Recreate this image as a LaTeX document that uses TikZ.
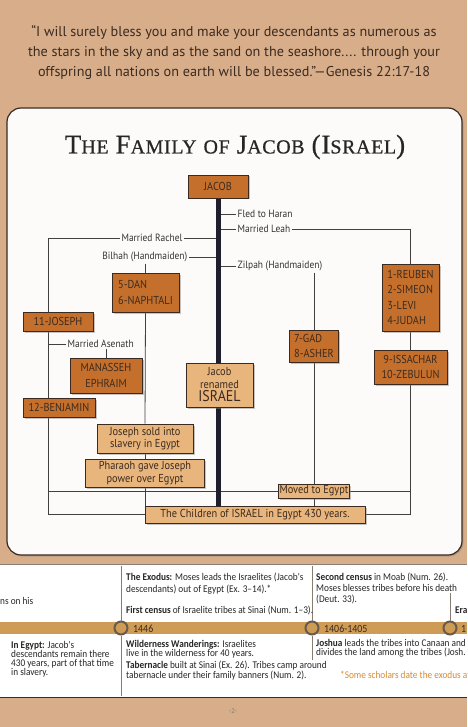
\documentclass[tikz,border=0pt]{standalone}
\usepackage{fontspec}
\newfontfamily\handfont[FakeStretch=0.9]{PT Sans}
\newfontfamily\quotefont{PT Sans}
\newfontfamily\condfont[FakeStretch=0.9]{Carlito}
\newfontfamily\titlefont[FakeBold=0.6, LetterSpace=3]{Liberation Serif}
\usetikzlibrary{positioning,shadows}

\definecolor{pagetan}{HTML}{D8AE8A}
\definecolor{paperwhite}{HTML}{FCFBF9}
\definecolor{kidorange}{HTML}{C4702C}
\definecolor{eventtan}{HTML}{E8B57C}
\definecolor{bandgold}{HTML}{CF9C55}
\definecolor{inkbrown}{HTML}{3A2A20}
\definecolor{spinenavy}{HTML}{1E1E2C}
\definecolor{noteorange}{HTML}{D88A34}
\definecolor{ringgray}{HTML}{6A5A4C}

% hand-made small capitals for the heading
\newcommand\titlecap[1]{{\fontsize{27}{27}\selectfont #1}}
\newcommand\titlesc[1]{{\fontsize{20}{27}\selectfont #1}}

\pgfdeclarelayer{paper}
\pgfdeclarelayer{wires}
\pgfsetlayers{paper,wires,main}

\begin{document}
\begin{tikzpicture}[x=1pt, y=-1pt,
  kid/.style={draw=inkbrown, fill=kidorange, line width=0.6pt, inner sep=0pt,
    font=\handfont\fontsize{11.5}{15.5}\selectfont, text=inkbrown,
    drop shadow={shadow xshift=1.5pt, shadow yshift=-1.5pt, opacity=0.45}},
  event/.style={kid, fill=eventtan, font=\handfont\fontsize{11.5}{12.5}\selectfont},
  lbl/.style={font=\handfont\fontsize{10.5}{12}\selectfont, text=black!80, inner sep=1.5pt},
  link/.style={draw=black!75, line width=0.8pt},
  sep/.style={draw=ringgray!80, line width=0.8pt},
  note/.style={font=\condfont\fontsize{10.3}{9}\selectfont, text=black!85, anchor=base west,
    align=left, inner sep=0pt},
  year/.style={note, font=\condfont\fontsize{11}{11}\selectfont, text=inkbrown},
  ring/.style={circle, draw=ringgray, fill=bandgold, line width=2pt, minimum size=13pt, inner sep=0pt},
]
\useasboundingbox (0,0) rectangle (467,727);
\clip (0,0) rectangle (467,727);

% page background
\begin{pgfonlayer}{paper}
\fill[pagetan] (0,0) rectangle (467,727);
\fill[white] (0,564) rectangle (467,697);
\draw[inkbrown!60, line width=0.8pt] (0,564) -- (467,564);
\draw[inkbrown, line width=1pt] (0,697) -- (467,697);
\fill[bandgold] (0,622) rectangle (467,634);
\draw[fill=paperwhite, draw=inkbrown, line width=1.2pt, rounded corners=14pt,
  drop shadow={shadow xshift=1.5pt, shadow yshift=-1.5pt, opacity=0.4}] (7,108) rectangle (462,555);
\end{pgfonlayer}

% quote and title
\node[font=\quotefont\fontsize{14.2}{20}\selectfont, text=inkbrown, align=center] (quote) at (234,52)
  {“I will surely bless you and make your descendants as numerous as\\
   the stars in the sky and as the sand on the seashore.... through your\\
   offspring all nations on earth will be blessed.”—Genesis 22:17-18};
\node[font=\titlefont\fontsize{25}{27}\selectfont, text=black!85] (title) at (235,147)
  {\titlecap{T}\titlesc{HE} \titlecap{F}\titlesc{AMILY} \titlesc{OF} \titlecap{J}\titlesc{ACOB}
   \titlecap{(I}\titlesc{SRAEL}\titlecap{)}};

% boxes
\node[kid, minimum width=60pt, minimum height=23pt] (jacob) at (218,186.5) {JACOB};
\node[kid, minimum width=67pt, minimum height=39pt, align=left] (dan) at (145.5,292.5) {5-DAN\\6-NAPHTALI};
\node[kid, minimum width=70pt, minimum height=19pt] (joseph) at (58,321.5) {11-JOSEPH};
\node[kid, minimum width=72pt, minimum height=35pt, align=center] (manasseh) at (106,375.5) {MANASSEH\\EPHRAIM};
\node[kid, minimum width=72pt, minimum height=19pt] (benjamin) at (59,407.5) {12-BENJAMIN};
\node[event, minimum width=96pt, minimum height=29pt, align=center] (sold) at (145,438.5) {Joseph sold into\\slavery in Egypt};
\node[event, minimum width=119pt, minimum height=28pt, align=center] (pharaoh) at (145,473) {Pharaoh gave Joseph\\power over Egypt};
\node[event, minimum width=67pt, minimum height=44pt, align=center] (israel) at (219.5,385)
  {Jacob\\renamed\\[1pt]{\fontsize{15.5}{15}\selectfont ISRAEL}};
\node[kid, minimum width=57pt, minimum height=67pt, align=left] (reuben) at (410.5,297.5)
  {1-REUBEN\\2-SIMEON\\3-LEVI\\4-JUDAH};
\node[kid, minimum width=49pt, minimum height=32pt, align=left] (gad) at (314,346) {7-GAD\\8-ASHER};
\node[kid, minimum width=73pt, minimum height=34pt, align=center] (issachar) at (410.5,367) {9-ISSACHAR\\10-ZEBULUN};
\node[event, minimum width=71pt, minimum height=14pt] (moved) at (314,491) {Moved to Egypt};
\node[event, minimum width=220pt, minimum height=17pt] (children) at (255,514.5)
  {The Children of ISRAEL in Egypt 430 years.};

% labels
\node[lbl, anchor=west] (fled) at (236,214) {Fled to Haran};
\node[lbl, anchor=west] (leah) at (236,229) {Married Leah};
\node[lbl, anchor=east] (rachel) at (184,238) {Married Rachel};
\node[lbl, anchor=east] (bilhah) at (189,257) {Bilhah (Handmaiden)};
\node[lbl, anchor=west] (zilpah) at (236,266) {Zilpah (Handmaiden)};
\node[lbl, anchor=west] (asenath) at (66,344) {Married Asenath};
\coordinate (leftrail) at (48,238);

% connectors
\begin{pgfonlayer}{wires}
\draw[link] (fled.west) -- (fled.west -| jacob.south);
\draw[link] (leah.west) -- (leah.west -| jacob.south);
\draw[link] (zilpah.west) -- (zilpah.west -| jacob.south);
\draw[link] (rachel.east) -- (rachel.east -| jacob.south);
\draw[link] (bilhah.east) -- (bilhah.east -| jacob.south);
\draw[link] (leah.east) -| (reuben.north);
\draw[link] (reuben.south) -- (issachar.north);
\draw[link] (issachar.south) |- (children.east);
\draw[link] (rachel.west) -- (leftrail) -- (leftrail |- children.west) -- (children.west);
\draw[link] (asenath.west) -- (asenath.west -| leftrail);
\draw[link] (asenath.south -| manasseh.north) -- (manasseh.north);
\draw[link] (bilhah.south -| dan.north) -- (dan.north);
\draw[link] (dan.south) -- (sold.north);
\draw[link] (sold.south) -- (pharaoh.north);
\draw[link] (pharaoh.south) -- (pharaoh.south |- children.north);
\draw[link] (zilpah.south -| gad.north) -- (gad.north);
\draw[link] (gad.south) -- (moved.north);
\draw[link] (moved.south) -- (moved.south |- children.north);
\draw[link] (moved.west) -- (moved.west -| leftrail);
\draw[link] (moved.east) -- (moved.east -| issachar.south);
\draw[spinenavy, line width=5pt] (jacob.south) -- (jacob.south |- children.north);
\end{pgfonlayer}

% timeline strip (multi-line notes sit on the baseline of their last line)
\node[ring] (ringA) at (121,628) {};
\node[ring] (ringB) at (312,628) {};
\node[ring] (ringC) at (450,628) {};
\draw[sep] (ringA.north) -- ++(0,-55);
\draw[sep] (ringA.south) -- ++(0,60);
\draw[sep] (ringB.north) -- ++(0,-55);
\draw[sep] (ringB.south) -- ++(0,24);
\draw[sep] (ringC.north) -- ++(0,-28);

\node[note] (tailA) at (0,604.5) {ns on his};
\node[note, font=\condfont\fontsize{10.3}{11.5}\selectfont] (exodus) at (126,592)
  {\textbf{The Exodus:} Moses leads the Israelites (Jacob's\\descendants) out of Egypt (Ex. 3–14).*};
\node[note] (census) at (126,613.5) {\textbf{First census} of Israelite tribes at Sinai (Num. 1–3).};
\node[note, font=\condfont\fontsize{10.3}{11}\selectfont] (second) at (316,602.5)
  {\textbf{Second census} in Moab (Num. 26).\\Moses blesses tribes before his death\\(Deut. 33).};
\node[note] (era) at (455,613.5) {\textbf{Era}};
\node[year] (yearA) at (133,632) {1446};
\node[year] (yearB) at (324,632) {1406-1405};
\node[year] (yearC) at (461,632) {1};
\node[note] (egypt) at (11,675.5) {\textbf{In Egypt:} Jacob's\\descendants remain there\\430 years, part of that time\\in slavery.};
\node[note] (wander) at (126,656.5) {\textbf{Wilderness Wanderings:} Israelites\\live in the wilderness for 40 years.};
\node[note] (tabernacle) at (126,678.5) {\textbf{Tabernacle} built at Sinai (Ex. 26). Tribes camp around\\tabernacle under their family banners (Num. 2).};
\node[note] (joshua) at (316,655) {\textbf{Joshua} leads the tribes into Canaan and\\divides the land among the tribes (Josh. 1};
\node[note, text=noteorange] (scholars) at (340,678) {*Some scholars date the exodus at};
\node[font=\condfont\fontsize{7.5}{7.5}\selectfont, text=inkbrown!60] (pagenum) at (233,711) {-2-};
\end{tikzpicture}
\end{document}
